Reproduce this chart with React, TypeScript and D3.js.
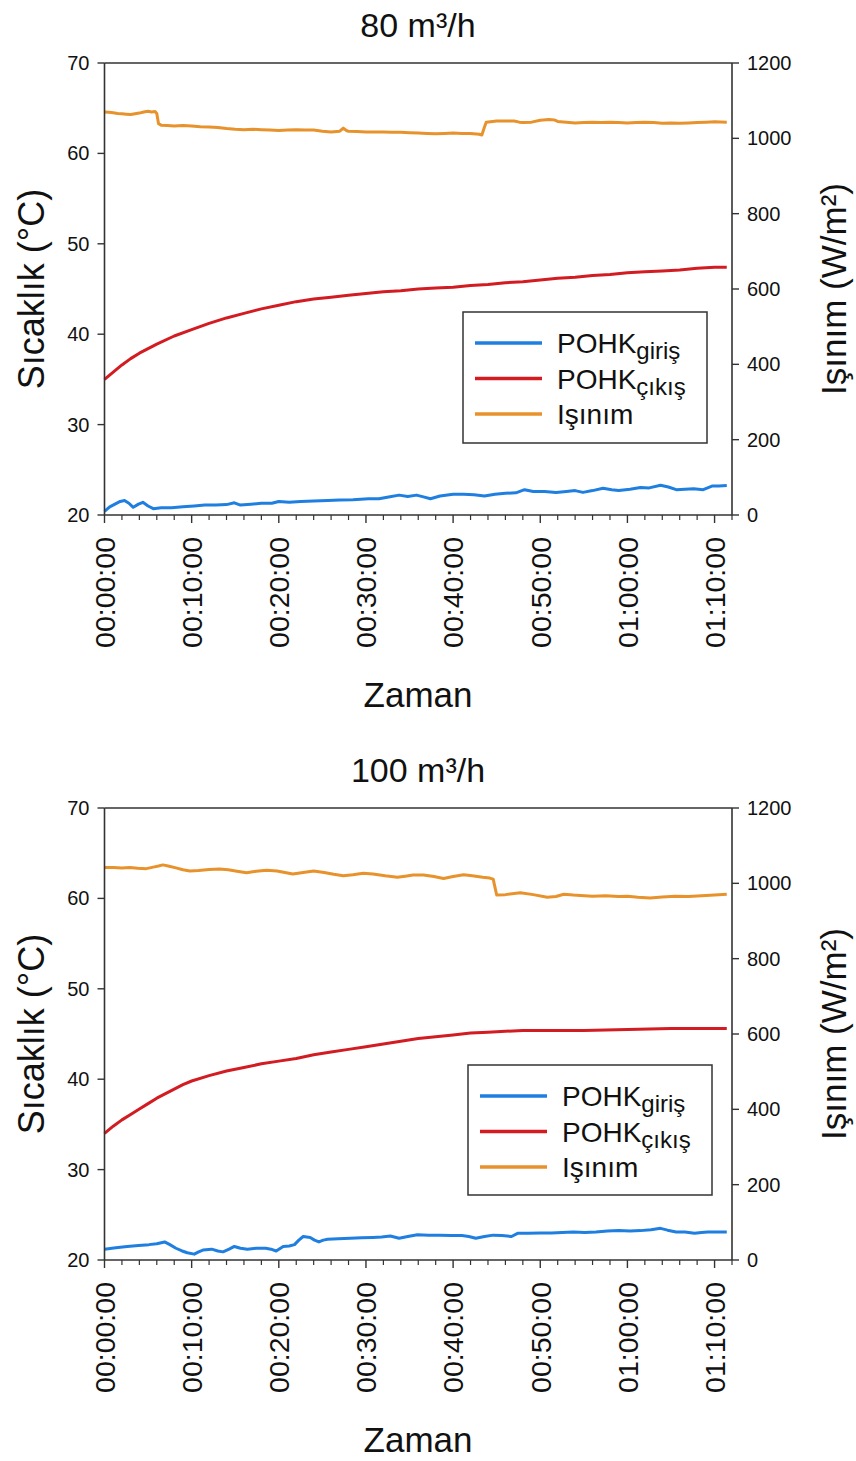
import React from "react";
import * as d3 from "d3";

// Time axis (minutes) and its labels
const timeTickMinutes = [0, 10, 20, 30, 40, 50, 60, 70];
const timeLabels = ["00:00:00", "00:10:00", "00:20:00", "00:30:00", "00:40:00", "00:50:00", "01:00:00", "01:10:00"];
const tempTicks = [20, 30, 40, 50, 60, 70];
const radTicks = [0, 200, 400, 600, 800, 1000, 1200];

type Pt = [number, number]; // [minute, value]

// 80 m³/h run
const giris80: Pt[] = [
  [0, 20.4], [0.6, 20.9], [1.2, 21.2], [1.8, 21.5], [2.3, 21.6], [2.8, 21.3], [3.3, 20.85], [3.9, 21.2], [4.4, 21.4],
  [5.0, 21.0], [5.6, 20.7], [6.5, 20.8], [7.7, 20.8], [9.0, 20.9], [10.3, 21.0], [11.5, 21.1], [12.8, 21.1],
  [14.0, 21.15], [14.9, 21.35], [15.6, 21.1], [16.8, 21.2], [18.0, 21.3], [19.2, 21.3], [20.0, 21.5], [21.2, 21.4],
  [22.5, 21.5], [24.0, 21.55], [25.6, 21.6], [27.0, 21.65], [28.5, 21.7], [30.3, 21.8], [31.5, 21.8], [32.6, 22.0],
  [33.8, 22.2], [34.8, 22.05], [35.8, 22.2], [36.6, 22.0], [37.4, 21.8], [38.5, 22.1], [40.0, 22.3], [41.2, 22.3],
  [42.4, 22.25], [43.6, 22.1], [44.8, 22.3], [46.0, 22.4], [47.2, 22.45], [48.2, 22.8], [49.2, 22.6], [50.5, 22.6],
  [51.8, 22.5], [53.0, 22.6], [54.0, 22.7], [54.9, 22.5], [56.0, 22.7], [57.2, 22.95], [58.2, 22.8], [59.0, 22.7],
  [60.3, 22.85], [61.5, 23.05], [62.5, 23.0], [63.8, 23.3], [64.7, 23.1], [65.6, 22.8], [66.6, 22.85], [67.6, 22.9],
  [68.7, 22.8], [69.7, 23.2], [70.5, 23.2], [71.4, 23.25]
];
const cikis80: Pt[] = [
  [0, 35.0], [1, 35.8], [2, 36.6], [3, 37.3], [4, 37.9], [5, 38.4], [6, 38.9], [8, 39.8], [10, 40.5], [12, 41.2],
  [14, 41.8], [16, 42.3], [18, 42.8], [20, 43.2], [22, 43.6], [24, 43.9], [26, 44.1], [28, 44.3], [30, 44.5],
  [32, 44.7], [34, 44.8], [36, 45.0], [38, 45.1], [40, 45.2], [42, 45.4], [44, 45.5], [46, 45.7], [48, 45.8],
  [50, 46.0], [52, 46.2], [54, 46.3], [56, 46.5], [58, 46.6], [60, 46.8], [62, 46.9], [64, 47.0], [66, 47.1],
  [68, 47.3], [70, 47.4], [71.4, 47.4]
];
const isinim80: Pt[] = [
  [0, 1070], [0.5, 1069], [1, 1068], [1.5, 1066], [2, 1065], [2.5, 1064], [3, 1063], [3.5, 1065], [4, 1067],
  [4.5, 1070], [5, 1072], [5.4, 1070], [5.8, 1071], [6.0, 1066], [6.2, 1039], [6.5, 1035], [7.2, 1034], [8, 1033],
  [9, 1034], [10, 1033], [11, 1031], [12, 1030], [13, 1029], [14, 1026], [15, 1024], [16, 1023], [17, 1024],
  [18, 1023], [19, 1022], [20, 1021], [21, 1022], [22, 1023], [23, 1022], [24, 1022], [25, 1019], [26, 1017],
  [27.0, 1019], [27.4, 1027], [27.8, 1020], [28, 1019], [29, 1018], [30, 1017], [31, 1017], [32, 1017], [33, 1016],
  [34, 1016], [35, 1015], [36, 1014], [37, 1013], [38, 1012], [39, 1013], [40, 1014], [41, 1013], [42, 1013],
  [43.0, 1011], [43.3, 1009], [43.6, 1030], [43.8, 1043], [45, 1046], [46, 1046], [47, 1046], [47.6, 1043],
  [48, 1042], [49, 1043], [50, 1048], [51, 1050], [51.6, 1049], [52, 1045], [53, 1043], [54, 1041], [55, 1042],
  [56, 1043], [57, 1042], [58, 1043], [59, 1042], [60, 1041], [61, 1042], [62, 1043], [63, 1042], [64, 1040],
  [65, 1041], [66, 1040], [67, 1041], [68, 1042], [69, 1043], [70, 1044], [71.4, 1043]
];

// 100 m³/h run
const giris100: Pt[] = [
  [0, 21.2], [1.3, 21.35], [2.6, 21.5], [3.9, 21.6], [5.1, 21.7], [6.0, 21.8], [6.9, 22.0], [7.5, 21.7],
  [8.2, 21.3], [8.9, 21.0], [9.5, 20.8], [10.3, 20.65], [10.8, 20.9], [11.3, 21.1], [12.3, 21.2], [13.0, 21.0],
  [13.6, 20.9], [14.3, 21.2], [14.9, 21.5], [15.6, 21.3], [16.4, 21.2], [17.4, 21.3], [18.5, 21.3], [19.1, 21.2],
  [19.7, 21.0], [20.5, 21.5], [21.2, 21.55], [21.8, 21.7], [22.3, 22.2], [22.8, 22.6], [23.6, 22.5], [24.1, 22.2],
  [24.6, 22.0], [25.1, 22.2], [25.6, 22.3], [26.8, 22.35], [28.2, 22.4], [29.5, 22.45], [30.8, 22.5], [31.8, 22.55],
  [32.8, 22.65], [33.8, 22.4], [34.8, 22.6], [35.9, 22.8], [37.2, 22.75], [38.5, 22.75], [39.8, 22.7], [41.0, 22.7],
  [41.8, 22.6], [42.6, 22.4], [43.6, 22.6], [44.6, 22.75], [45.6, 22.7], [46.7, 22.6], [47.4, 22.95], [48.6, 22.95],
  [50.0, 23.0], [51.3, 23.0], [52.5, 23.05], [53.8, 23.1], [55.1, 23.05], [56.4, 23.1], [57.7, 23.2], [59.0, 23.25],
  [60.3, 23.2], [61.5, 23.25], [62.7, 23.35], [63.8, 23.5], [64.6, 23.3], [65.6, 23.1], [66.6, 23.1], [67.7, 22.95],
  [68.5, 23.05], [69.2, 23.1], [70.3, 23.1], [71.4, 23.1]
];
const cikis100: Pt[] = [
  [0, 34.0], [1, 34.8], [2, 35.5], [3, 36.1], [4, 36.7], [5, 37.3], [6, 37.9], [7, 38.4], [8, 38.9], [9, 39.4],
  [10, 39.8], [12, 40.4], [14, 40.9], [16, 41.3], [18, 41.7], [20, 42.0], [22, 42.3], [24, 42.7], [26, 43.0],
  [28, 43.3], [30, 43.6], [32, 43.9], [34, 44.2], [36, 44.5], [38, 44.7], [40, 44.9], [42, 45.1], [44, 45.2],
  [46, 45.3], [48, 45.4], [50, 45.4], [55, 45.4], [60, 45.5], [65, 45.6], [70, 45.6], [71.4, 45.6]
];
const isinim100: Pt[] = [
  [0, 1042], [1, 1042], [2, 1041], [2.9, 1042], [3.8, 1040], [4.8, 1039], [5.6, 1043], [6.2, 1046], [6.7, 1049],
  [7.3, 1046], [8.2, 1041], [9.0, 1036], [9.8, 1033], [10.8, 1034], [12.0, 1037], [13.2, 1038], [14.2, 1036],
  [15.2, 1032], [16.3, 1028], [17.4, 1032], [18.6, 1035], [19.8, 1033], [20.7, 1029], [21.6, 1025], [22.8, 1029],
  [24.0, 1033], [25.2, 1029], [26.3, 1024], [27.4, 1020], [28.5, 1023], [29.7, 1027], [30.8, 1025], [32.2, 1020],
  [33.6, 1016], [34.5, 1019], [35.4, 1022], [36.6, 1022], [37.8, 1018], [38.9, 1013], [40.0, 1018], [41.2, 1023],
  [42.2, 1020], [43.4, 1016], [44.2, 1014], [44.6, 1011], [44.8, 990], [45.0, 969], [46.0, 970], [47.7, 975],
  [49.2, 970], [50.8, 963], [51.8, 965], [52.7, 971], [53.8, 969], [54.6, 968], [56.0, 966], [57.5, 967], [59.0, 965],
  [60.0, 966], [61.2, 963], [62.6, 961], [64.0, 964], [65.5, 966], [67.0, 965], [68.5, 967], [70.0, 969], [71.4, 971]
];

const COLORS = { giris: "#1f7fe0", cikis: "#d21c22", isinim: "#e8922c" };
const FONT = "'Liberation Sans', Arial, sans-serif";
const AXIS = "#333";

const X_LEFT = 104.5;
const X_RIGHT = 732;
const PLOT_H = 452;

type PanelProps = {
  top: number;
  title: string;
  giris: Pt[];
  cikis: Pt[];
  isinim: Pt[];
  legend: { x: number; y: number; w: number; h: number };
};

function Panel({ top, title, giris, cikis, isinim, legend }: PanelProps) {
  const bottom = top + PLOT_H;
  const x = d3.scaleLinear().domain([0, 72]).range([X_LEFT, X_RIGHT]);
  const yT = d3.scaleLinear().domain([20, 70]).range([bottom, top]);
  const yR = d3.scaleLinear().domain([0, 1200]).range([bottom, top]);
  const lineT = d3.line<Pt>().x((d) => x(d[0])).y((d) => yT(d[1]));
  const lineR = d3.line<Pt>().x((d) => x(d[0])).y((d) => yR(d[1]));
  const minor = d3.range(0, 73, 2).filter((m) => m % 10 !== 0);
  const midY = (top + bottom) / 2;

  const legendRows = [
    { color: COLORS.giris, main: "POHK", sub: "giriş" },
    { color: COLORS.cikis, main: "POHK", sub: "çıkış" },
    { color: COLORS.isinim, main: "Işınım", sub: "" },
  ];

  return (
    <g fontFamily={FONT} fill="#111">
      <text x={418} y={top - 26} textAnchor="middle" fontSize={34}>{title}</text>

      {/* series */}
      <path d={lineT(giris) || ""} fill="none" stroke={COLORS.giris} strokeWidth={3} strokeLinejoin="round" />
      <path d={lineT(cikis) || ""} fill="none" stroke={COLORS.cikis} strokeWidth={3} strokeLinejoin="round" />
      <path d={lineR(isinim) || ""} fill="none" stroke={COLORS.isinim} strokeWidth={3} strokeLinejoin="round" />

      {/* frame */}
      <line x1={X_LEFT} x2={X_RIGHT} y1={top} y2={top} stroke={AXIS} strokeWidth={1.6} />
      <line x1={X_LEFT} x2={X_RIGHT} y1={bottom} y2={bottom} stroke={AXIS} strokeWidth={1.6} />
      <line x1={X_LEFT} x2={X_LEFT} y1={top} y2={bottom} stroke={AXIS} strokeWidth={1.6} />
      <line x1={X_RIGHT} x2={X_RIGHT} y1={top} y2={bottom} stroke={AXIS} strokeWidth={1.6} />

      {/* left axis */}
      {tempTicks.map((t) => (
        <g key={"l" + t}>
          <line x1={X_LEFT - 7} x2={X_LEFT} y1={yT(t)} y2={yT(t)} stroke={AXIS} strokeWidth={1.4} />
          <text x={X_LEFT - 15} y={yT(t)} dy="0.35em" textAnchor="end" fontSize={20}>{t}</text>
        </g>
      ))}
      <text transform={`translate(${44},${midY}) rotate(-90)`} textAnchor="middle" fontSize={36}>Sıcaklık (°C)</text>

      {/* right axis */}
      {radTicks.map((t) => (
        <g key={"r" + t}>
          <line x1={X_RIGHT} x2={X_RIGHT + 7} y1={yR(t)} y2={yR(t)} stroke={AXIS} strokeWidth={1.4} />
          <text x={X_RIGHT + 15} y={yR(t)} dy="0.35em" textAnchor="start" fontSize={20}>{t}</text>
        </g>
      ))}
      <text transform={`translate(${846},${midY}) rotate(-90)`} textAnchor="middle" fontSize={35}>Işınım (W/m²)</text>

      {/* time axis */}
      {minor.map((m) => (
        <line key={"m" + m} x1={x(m)} x2={x(m)} y1={bottom} y2={bottom + 5} stroke={AXIS} strokeWidth={1.2} />
      ))}
      {timeTickMinutes.map((m, i) => (
        <g key={"x" + m}>
          <line x1={x(m)} x2={x(m)} y1={bottom} y2={bottom + 8} stroke={AXIS} strokeWidth={1.4} />
          <text transform={`translate(${x(m)},${bottom + 22}) rotate(-90)`} dy="0.36em" textAnchor="end" fontSize={28.5}>
            {timeLabels[i]}
          </text>
        </g>
      ))}
      <text x={418} y={bottom + 192} textAnchor="middle" fontSize={35}>Zaman</text>

      {/* legend */}
      <rect x={legend.x} y={legend.y} width={legend.w} height={legend.h} fill="#fff" stroke={AXIS} strokeWidth={1.5} />
      {legendRows.map((r, i) => {
        const cy = legend.y + 31 + i * 35.5;
        return (
          <g key={"lg" + i}>
            <line x1={legend.x + 12} x2={legend.x + 79} y1={cy} y2={cy} stroke={r.color} strokeWidth={3.5} />
            <text x={legend.x + 94} y={cy + 10} fontSize={28}>
              {r.main}
              {r.sub ? <tspan dy={6} fontSize={24}>{r.sub}</tspan> : null}
            </text>
          </g>
        );
      })}
    </g>
  );
}

export default function App() {
  return (
    <svg
      width={856}
      height={1461}
      viewBox="0 0 856 1461"
      style={{ position: "absolute", left: 0, top: 0, background: "#fff" }}
    >
      <rect width={856} height={1461} fill="#fff" />
      <Panel
        top={63}
        title="80 m³/h"
        giris={giris80}
        cikis={cikis80}
        isinim={isinim80}
        legend={{ x: 463, y: 312, w: 244, h: 131 }}
      />
      <Panel
        top={808}
        title="100 m³/h"
        giris={giris100}
        cikis={cikis100}
        isinim={isinim100}
        legend={{ x: 468, y: 1065, w: 244, h: 130 }}
      />
    </svg>
  );
}
